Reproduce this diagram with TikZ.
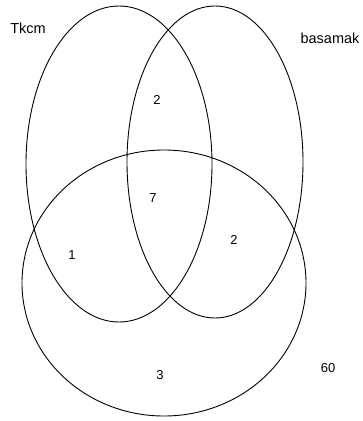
\documentclass[tikz,border=0pt]{standalone}
\usepackage{fontspec}
\setmainfont{Liberation Sans}
\usetikzlibrary{shapes.geometric}

\begin{document}
\begin{tikzpicture}[
  x=1pt, y=-1pt,
  setnode/.style={ellipse, draw=black, line width=0.9pt, inner sep=0pt},
  countlabel/.style={font=\fontsize{13}{15}\selectfont, inner sep=1pt},
  setlabel/.style={font=\fontsize{14.5}{17}\selectfont, inner sep=1pt}
]
\useasboundingbox (0,0) rectangle (363,421);

% Sets
\node[setnode, minimum width=186pt, minimum height=316pt] (tkcm) at (119,164) {};
\node[setnode, minimum width=176pt, minimum height=312pt] (basamak) at (215,162) {};
\node[setnode, minimum width=284pt, minimum height=266pt] (third) at (164,283) {};

% Set names
\node[setlabel] (tkcmname) at (28,28) {Tkcm};
\node[setlabel] (basamakname) at (330,38) {basamak};

% Region counts
\node[countlabel] (n12) at (157,100) {2};
\node[countlabel] (n123) at (153,198) {7};
\node[countlabel] (n13) at (72,255) {1};
\node[countlabel] (n23) at (234,240) {2};
\node[countlabel] (n3) at (160,375) {3};
\node[countlabel] (nout) at (328,368) {60};

\end{tikzpicture}
\end{document}
